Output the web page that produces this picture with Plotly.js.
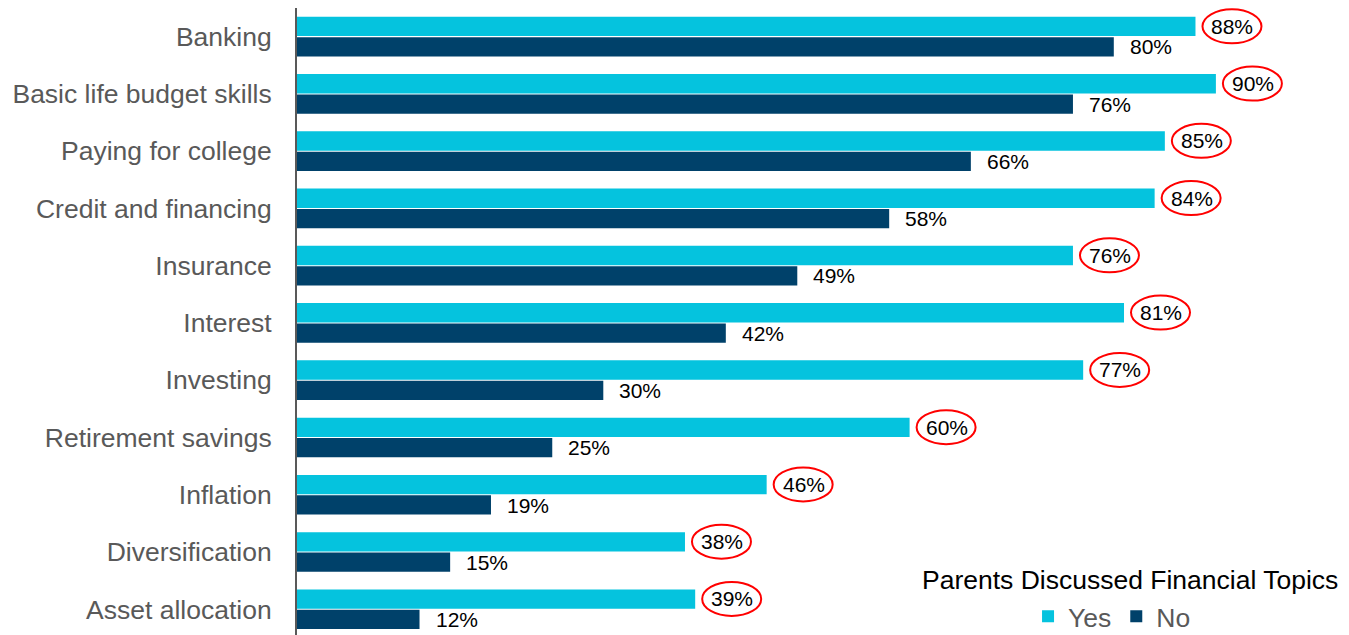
<!DOCTYPE html>
<html>
<head>
<meta charset="utf-8">
<script src="https://cdn.plot.ly/plotly-3.0.1.min.js"></script>
<style>html,body{margin:0;padding:0;background:#fff;}#chart{width:1349px;height:635px;}</style>
</head>
<body>
<div id="chart"></div>
<script>
const categories = ["Banking","Basic life budget skills","Paying for college","Credit and financing","Insurance","Interest","Investing","Retirement savings","Inflation","Diversification","Asset allocation"];
const yesValues = [88,90,85,84,76,81,77,60,46,38,39];
const noValues = [80,76,66,58,49,42,30,25,19,15,12];
const seriesNames = ["Yes","No"];
const legendTitle = "Parents Discussed Financial Topics";

const YES_COLOR = "#05C3DE";
const NO_COLOR = "#00416A";
const FONT = "Liberation Sans, Arial, sans-serif";

const traces = [
  {type:"bar", orientation:"h", name:seriesNames[0], y:categories, x:yesValues,
   marker:{color:YES_COLOR}, hoverinfo:"x+y"},
  {type:"bar", orientation:"h", name:seriesNames[1], y:categories, x:noValues,
   marker:{color:NO_COLOR}, hoverinfo:"x+y"}
];

const barOff = 0.18;
const annotations = [];
const shapes = [];
categories.forEach((c,i)=>{
  annotations.push({x:yesValues[i], y:i-barOff, xref:"x", yref:"y", text:yesValues[i]+"%",
    showarrow:false, xanchor:"left", yanchor:"middle", xshift:14,
    font:{family:FONT, size:21, color:"#000"}});
  annotations.push({x:noValues[i], y:i+barOff, xref:"x", yref:"y", text:noValues[i]+"%",
    showarrow:false, xanchor:"left", yanchor:"middle", xshift:14,
    font:{family:FONT, size:21, color:"#000"}});
  shapes.push({type:"circle", xref:"x", yref:"y", xsizemode:"pixel", ysizemode:"pixel",
    xanchor:yesValues[i], yanchor:i-barOff, x0:7, x1:66, y0:-17, y1:17,
    line:{color:"#FF0000", width:2}, fillcolor:"rgba(0,0,0,0)"});
});
annotations.push({xref:"paper", yref:"paper", x:0.816, y:0.088, xanchor:"center", yanchor:"middle",
  text:legendTitle, showarrow:false, font:{family:FONT, size:26.5, color:"#000"}});

const layout = {
  width:1349, height:635,
  margin:{l:297, r:31, t:8, b:0, autoexpand:false},
  paper_bgcolor:"#fff", plot_bgcolor:"#fff",
  barmode:"group", bargap:0.29, bargroupgap:0.05,
  font:{family:FONT},
  xaxis:{range:[0,100], showgrid:false, zeroline:false, showticklabels:false, showline:false, fixedrange:true},
  yaxis:{type:"category", range:[10.45,-0.5], showgrid:false, zeroline:false,
    showline:true, linecolor:"#595959", linewidth:2, ticks:"", ticklabelstandoff:18,
    tickfont:{family:FONT, size:26.5, color:"#595959"}, fixedrange:true},
  showlegend:true,
  legend:{orientation:"h", x:0.716, xanchor:"left", y:-0.009, yanchor:"bottom",
    bgcolor:"rgba(0,0,0,0)", traceorder:"normal",
    font:{family:FONT, size:26.5, color:"#595959"}, itemwidth:30},
  annotations:annotations,
  shapes:shapes
};

Plotly.newPlot("chart", traces, layout, {displayModeBar:false, staticPlot:true});
</script>
</body>
</html>
